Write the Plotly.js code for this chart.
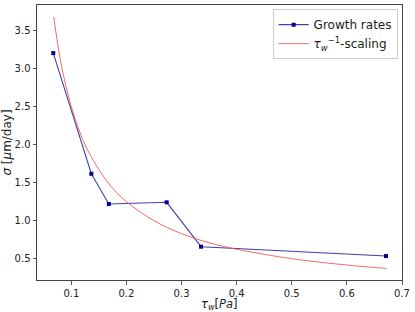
<!DOCTYPE html>
<html>
<head>
<meta charset="utf-8">
<script src="https://cdn.plot.ly/plotly-3.0.1.min.js"></script>
<style>html,body{margin:0;padding:0;background:#fff;}#chart{width:415px;height:312px;}</style>
</head>
<body>
<div id="chart"></div>
<script>
var tauW = [0.0672, 0.1363, 0.168, 0.273, 0.3354, 0.671];
var growthRates = [3.205, 1.618, 1.22, 1.242, 0.658, 0.535];
var fitX = [0.068, 0.08, 0.09, 0.1, 0.12, 0.14, 0.17, 0.2, 0.25, 0.3, 0.35, 0.4, 0.5, 0.6, 0.672];
var fitY = [3.68, 3.12, 2.78, 2.5, 2.08, 1.79, 1.47, 1.25, 1.0, 0.83, 0.71, 0.625, 0.5, 0.417, 0.372];
var xTicks = [0.1, 0.2, 0.3, 0.4, 0.5, 0.6, 0.7];
var yTicks = [0.5, 1.0, 1.5, 2.0, 2.5, 3.0, 3.5];
var xTitle = '<i>τ</i><sub><i>w</i></sub>[<i>Pa</i>]';
var yTitle = '<i>σ</i> [<i>μ</i>m/day]';

var traces = [
  {x: tauW, y: growthRates, type: 'scatter', mode: 'lines+markers', name: 'Growth rates',
   line: {color: 'rgba(0,0,139,0.75)', width: 1.1},
   marker: {symbol: 'square', size: 4, color: '#00008b'}},
  {x: fitX, y: fitY, type: 'scatter', mode: 'lines', name: '<i>τ</i><sub><i>w</i></sub><sup>−1</sup>-scaling',
   line: {color: 'rgba(240,80,80,0.85)', width: 1, shape: 'spline'}}
];

var axisCommon = {
  showline: true, mirror: true, linecolor: '#444', linewidth: 1,
  ticks: 'outside', ticklen: 3.5, tickwidth: 0.8, tickcolor: '#333',
  showgrid: false, zeroline: false,
  tickfont: {family: 'DejaVu Sans', size: 10, color: '#222'}
};

var layout = {
  width: 415, height: 312,
  margin: {l: 37, r: 13, t: 5, b: 32},
  paper_bgcolor: '#fff', plot_bgcolor: '#fff',
  font: {family: 'DejaVu Sans', size: 10, color: '#222'},
  showlegend: true,
  legend: {x: 0.988, y: 0.985, xanchor: 'right', yanchor: 'top',
    bordercolor: '#ccc', borderwidth: 1, bgcolor: 'rgba(255,255,255,0.8)',
    itemwidth: 30,
    font: {family: 'DejaVu Sans', size: 12, color: '#222'}, tracegroupgap: 0},
  xaxis: Object.assign({}, axisCommon, {
    range: [0.0377, 0.7], tickvals: xTicks, ticktext: xTicks.map(function(v){return v.toFixed(1);})
  }),
  yaxis: Object.assign({}, axisCommon, {
    range: [0.22, 3.838], tickvals: yTicks, ticktext: yTicks.map(function(v){return v.toFixed(1);}),
    title: {text: yTitle, standoff: 3, font: {family: 'DejaVu Sans', size: 12, color: '#222'}}
  }),
  annotations: [{
    text: xTitle, xref: 'paper', yref: 'paper', x: 0.5, y: 0, xanchor: 'center', yanchor: 'top',
    yshift: -15, showarrow: false, font: {family: 'DejaVu Sans', size: 11.5, color: '#222'}
  }]
};

Plotly.newPlot('chart', traces, layout, {displayModeBar: false, staticPlot: true});
</script>
</body>
</html>
